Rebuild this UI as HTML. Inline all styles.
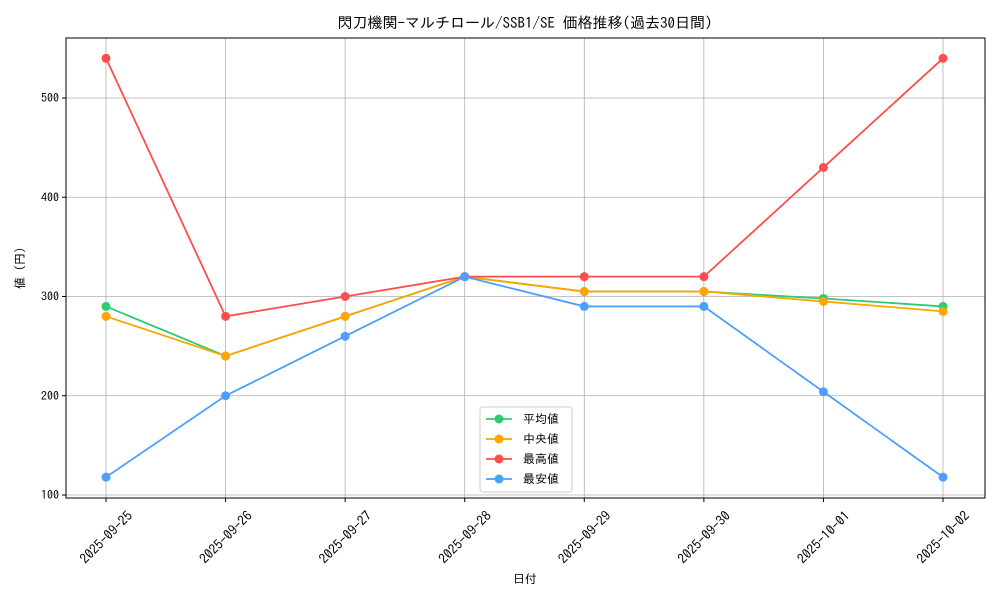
<!DOCTYPE html>
<html><head><meta charset="utf-8"><style>
body{margin:0;background:#fff;}
svg text{font-family:"IPAGothic","Noto Sans CJK JP",monospace;}
</style></head><body>
<svg width="1000" height="600" xmlns="http://www.w3.org/2000/svg">
<rect width="1000" height="600" fill="#fff"/>
<text x="525" y="28" text-anchor="middle" font-size="15">閃刀機関-マルチロール/SSB1/SE 価格推移(過去30日間)</text>
<g id="grid"></g>
<rect x="66" y="38" width="919" height="460" fill="none" stroke="#000" stroke-width="1"/>
<g id="axes"></g>
<g id="series"></g>
<text x="525" y="583" text-anchor="middle" font-size="12">日付</text>
<text transform="translate(24,268) rotate(-90)" text-anchor="middle" font-size="12">値 (円)</text>
<g id="legend"></g>
</svg>
<script>
const categories=["2025-09-25","2025-09-26","2025-09-27","2025-09-28","2025-09-29","2025-09-30","2025-10-01","2025-10-02"];
const avgValues=[290,240,280,320,305,305,298,290];
const medianValues=[280,240,280,320,305,305,295,285];
const maxValues=[540,280,300,320,320,320,430,540];
const minValues=[118,200,260,320,290,290,204,118];
const yTicks=[100,200,300,400,500];
const seriesNames=["平均値","中央値","最高値","最安値"];
const seriesColors=["#2ecc71","#ffa500","#ff4d4d","#4d9fff"];
const NS="http://www.w3.org/2000/svg";
const X0=106,X1=943,Y100=495,PXU=0.9925;
function xs(i){return X0+(X1-X0)*i/(categories.length-1);}
function ys(v){return Y100-(v-100)*PXU;}
function mk(tag,a,p){const e=document.createElementNS(NS,tag);for(const k in a)e.setAttribute(k,a[k]);p.appendChild(e);return e;}
const grid=document.getElementById('grid'),axes=document.getElementById('axes');
categories.forEach((c,i)=>{
 const x=xs(i);
 const g=mk('line',{x1:x,x2:x,y1:38,y2:498,stroke:'#b0b0b0','stroke-width':0.8},grid);
 
 
 mk('line',{x1:x,x2:x,y1:498,y2:502,stroke:'#000'},axes);
 const t=mk('text',{x:x,y:537,'text-anchor':'middle','dominant-baseline':'central','font-size':'13.5',transform:`rotate(-45 ${x} 537)`},axes);
 t.textContent=c;
 
 
});
yTicks.forEach(v=>{
 const y=ys(v);
 const g=mk('line',{x1:66,x2:985,y1:y,y2:y,stroke:'#b0b0b0','stroke-width':0.8},grid);
 
 
 mk('line',{x1:62,x2:66,y1:y,y2:y,stroke:'#000'},axes);
 const t=mk('text',{x:59,y:y+4,'text-anchor':'end','font-size':'12'},axes);
 t.textContent=v;
 
 
});
const data=[avgValues,medianValues,maxValues,minValues];
const sg=document.getElementById('series');
data.forEach((vals,s)=>{
 const pl=mk('polyline',{points:vals.map((v,i)=>xs(i)+','+ys(v)).join(' '),fill:'none',stroke:seriesColors[s],'stroke-width':1.8},sg);
 
 
 vals.forEach((v,i)=>{
  const c=mk('circle',{cx:xs(i),cy:ys(v),r:4.5,fill:seriesColors[s]},sg);
  
  
 });
});
const lg=document.getElementById('legend');
const box=mk('rect',{x:480,y:407,width:92,height:85,rx:3,fill:'#fff','fill-opacity':0.85,stroke:'#ccc'},lg);


seriesNames.forEach((n,s)=>{
 const y=419+s*20;
 mk('line',{x1:486,x2:512,y1:y,y2:y,stroke:seriesColors[s],'stroke-width':1.8},lg);
 mk('circle',{cx:499,cy:y,r:4.5,fill:seriesColors[s]},lg);
 const t=mk('text',{x:523,y:y+4,'font-size':'12'},lg);
 t.textContent=n;
 
 
});
</script>
</body></html>
